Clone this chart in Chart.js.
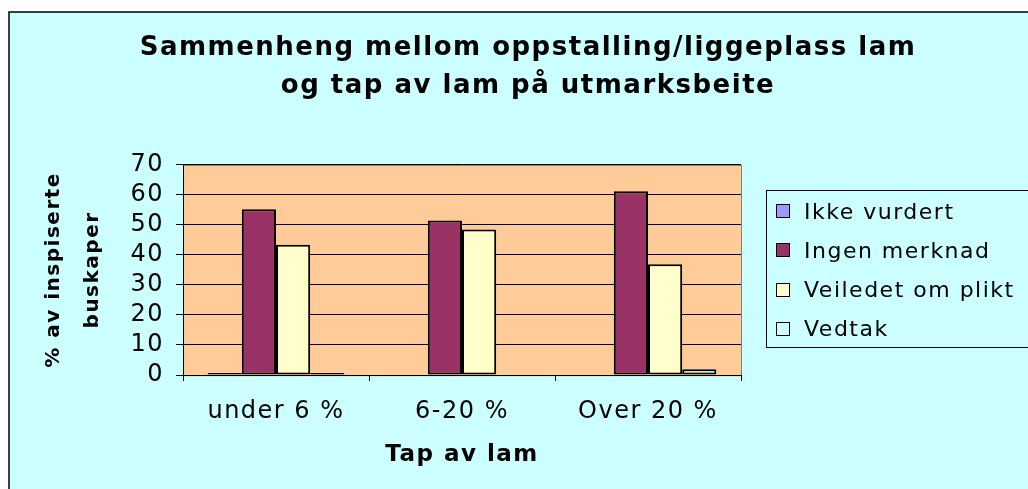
<!DOCTYPE html>
<html>
<head>
<meta charset="utf-8">
<script src="https://cdn.jsdelivr.net/npm/chart.js@4/dist/chart.umd.min.js"></script>
<style>
  body { margin: 0; background: #ffffff; }
  #wrap { width: 1028px; height: 489px; overflow: hidden; }
</style>
</head>
<body>
<div id="wrap"><canvas id="myChart" width="1028" height="489"></canvas></div>
<script>
// data
var categories = ["under 6 %", "6-20 %", "Over 20 %"];
var seriesNames = ["Ikke vurdert", "Ingen merknad", "Veiledet om plikt", "Vedtak"];
var ikkeVurdert = [0.7, 0, 0];
var ingenMerknad = [55.2, 51.5, 61.2];
var veiledetOmPlikt = [43.4, 48.5, 36.9];
var vedtak = [0.7, 0, 1.9];
var yTicks = [0, 10, 20, 30, 40, 50, 60, 70];

var seriesColors = ["#9999FF", "#993366", "#FFFFCC", "#CCFFFF"];
var bgColor = "#CCFFFF";
var plotColor = "#FFCC99";
var font = '"DejaVu Sans", "Liberation Sans", Arial, sans-serif';

function spacing(chart) {
    chart.ctx.letterSpacing = "1.5px";
}

var pagePlugin = {
    id: "page",
    beforeUpdate: spacing,
    beforeDraw: function (chart) {
        var ctx = chart.ctx;
        var a = chart.chartArea;
        spacing(chart);
        ctx.save();
        ctx.fillStyle = "#ffffff";
        ctx.fillRect(0, 0, chart.width, chart.height);
        ctx.fillStyle = bgColor;
        ctx.fillRect(9, 12, chart.width, chart.height);
        ctx.strokeStyle = "#000000";
        ctx.lineWidth = 1.5;
        ctx.beginPath();
        ctx.moveTo(9, chart.height);
        ctx.lineTo(9, 12);
        ctx.lineTo(chart.width, 12);
        ctx.stroke();
        //plot area
        ctx.fillStyle = plotColor;
        ctx.fillRect(a.left, a.top, a.right - a.left, a.bottom - a.top);
        ctx.strokeStyle = "#808080";
        ctx.lineWidth = 1;
        ctx.strokeRect(Math.round(a.left) + 0.5, Math.round(a.top) + 0.5, a.right - a.left, a.bottom - a.top);
        ctx.restore();
    },
    afterDraw: function (chart) {
        drawLegend(chart);
    }
};

function drawLegend(chart) {
    var ctx = chart.ctx;
    ctx.save();
    ctx.fillStyle = bgColor;
    ctx.strokeStyle = "#000000";
    ctx.lineWidth = 1;
    ctx.fillRect(766.5, 190.5, 300, 157);
    ctx.strokeRect(766.5, 190.5, 300, 157);
    ctx.font = "22px " + font;
    ctx.textBaseline = "alphabetic";
    ctx.textAlign = "left";
    chart.data.datasets.forEach(function (ds, i) {
        var cy = 210.5 + i * 39.3;
        ctx.fillStyle = ds.backgroundColor;
        ctx.fillRect(776.5, Math.round(cy - 6.5) + 0.5, 13, 13);
        ctx.strokeRect(776.5, Math.round(cy - 6.5) + 0.5, 13, 13);
        ctx.fillStyle = "#000000";
        ctx.fillText(ds.label, 804, cy + 8);
    });
    ctx.restore();
}

function dataset(i, values) {
    return {
        label: seriesNames[i],
        data: values,
        backgroundColor: seriesColors[i],
        borderColor: "#000000",
        borderWidth: 2,
        borderSkipped: false,
        categoryPercentage: 0.735,
        barPercentage: 1.0
    };
}

new Chart("myChart", {
    type: "bar",
    data: {
        labels: categories,
        datasets: [
            dataset(0, ikkeVurdert),
            dataset(1, ingenMerknad),
            dataset(2, veiledetOmPlikt),
            dataset(3, vedtak)
        ]
    },
    options: {
        responsive: false,
        animation: false,
        devicePixelRatio: 1,
        layout: { padding: { left: 28, right: 0, top: 0, bottom: 0 } },
        plugins: {
            legend: { display: false },
            tooltip: { enabled: false },
            title: {
                display: true,
                text: ["Sammenheng mellom oppstalling/liggeplass lam", "og tap av lam på utmarksbeite"],
                color: "#000000",
                font: { family: font, size: 26, weight: "bold", lineHeight: 1.44 },
                padding: { top: 30, bottom: 60 }
            }
        },
        scales: {
            x: {
                afterFit: function (scale) { scale.height = 114; },
                grid: {
                    display: true,
                    drawOnChartArea: false,
                    drawTicks: true,
                    tickLength: 6,
                    offset: true,
                    color: "#000000"
                },
                border: { display: true, color: "#000000", width: 1 },
                ticks: {
                    color: "#000000",
                    padding: 16,
                    maxRotation: 0,
                    font: { family: font, size: 24 }
                },
                title: {
                    display: true,
                    text: "Tap av lam",
                    color: "#000000",
                    font: { family: font, size: 23, weight: "bold" },
                    padding: { top: 0, bottom: 20 }
                }
            },
            y: {
                min: 0,
                max: 70,
                afterFit: function (scale) { scale.width = 155; },
                afterBuildTicks: function (scale) {
                    scale.ticks = yTicks.map(function (v) { return { value: v }; });
                },
                grid: {
                    color: "#000000",
                    lineWidth: 1,
                    drawTicks: true,
                    tickLength: 7,
                    tickColor: "#000000"
                },
                border: { display: true, color: "#000000", width: 1 },
                ticks: {
                    color: "#000000",
                    padding: 12,
                    autoSkip: false,
                    font: { family: font, size: 24, lineHeight: 1 }
                },
                title: {
                    display: true,
                    text: ["% av inspiserte", "buskaper"],
                    color: "#000000",
                    font: { family: font, size: 20, weight: "bold", lineHeight: 1.95 },
                    padding: { top: 6, bottom: 0 }
                }
            },
            yRight: {
                position: "right",
                afterFit: function (scale) { scale.width = 287; },
                grid: { display: false },
                border: { display: false },
                ticks: { display: false }
            }
        }
    },
    plugins: [pagePlugin]
});
</script>
</body>
</html>
